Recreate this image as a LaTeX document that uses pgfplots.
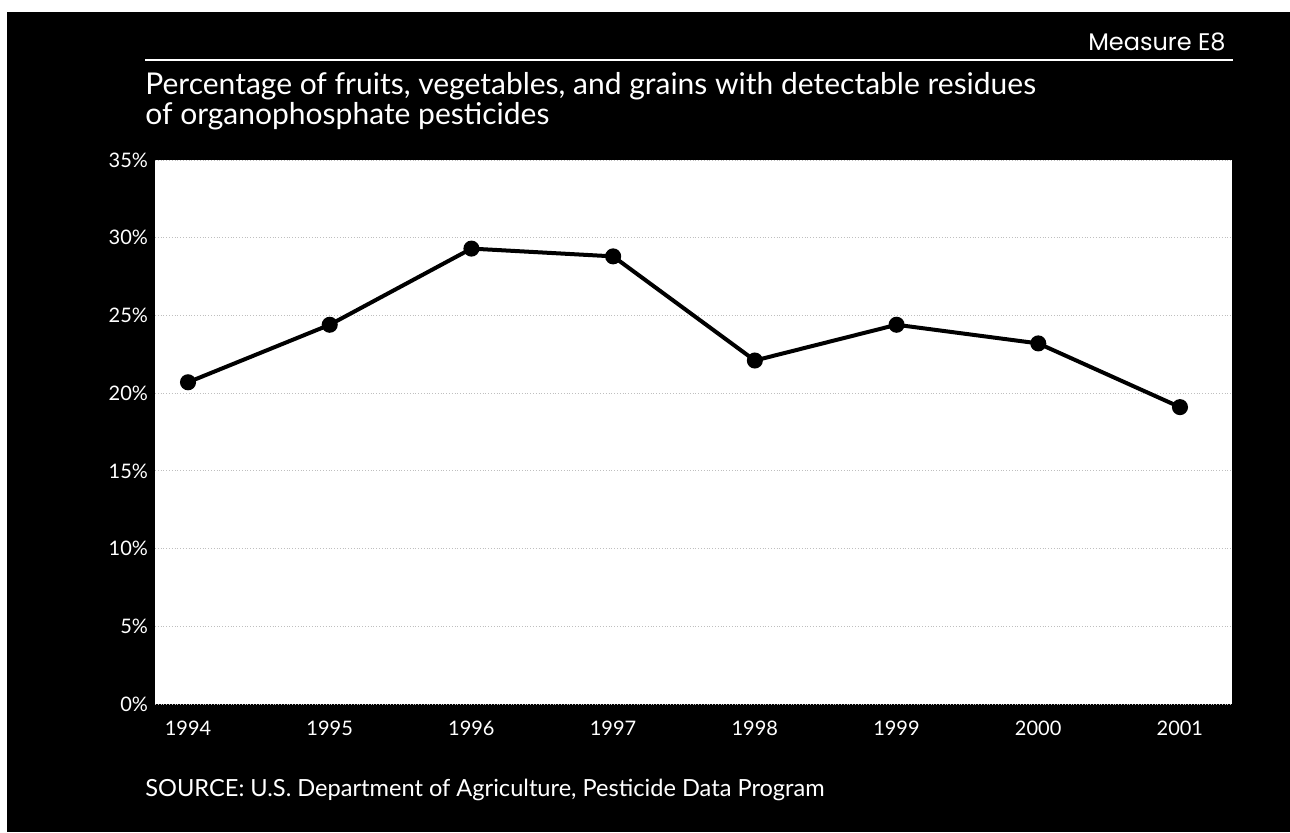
\documentclass[border=0pt]{standalone}
\usepackage{fontspec}
\setmainfont{Lato}
\newfontfamily\geofont{Poppins}
\usepackage{pgfplots}
\pgfplotsset{compat=1.18}
\begin{document}
\begin{tikzpicture}
% page frame: white margin, black panel
\fill[white] (0pt,0pt) rectangle (645pt,416pt);
\fill[black] (3.5pt,0pt) rectangle (645pt,410pt);
\draw[white, line width=1pt] (72.5pt,386pt) -- (616.5pt,386pt);
\node[anchor=east, text=white, inner sep=0, font=\geofont\fontsize{12}{14}\selectfont] at (613pt,395pt) {Measure E8};
\node[anchor=north west, align=left, text=white, inner sep=0, font=\fontsize{15}{12.5}\selectfont] at (72.5pt,380pt)
  {Percentage of fruits, vegetables, and grains with detectable residues\\of organophosphate pesticides};
\node[anchor=west, text=white, inner sep=0, font=\fontsize{11.8}{13}\selectfont] at (72.5pt,21pt)
  {SOURCE: U.S. Department of Agriculture, Pesticide Data Program};
\begin{axis}[
    at={(77.5pt,64pt)}, anchor=south west,
    scale only axis,
    width=538.5pt, height=272pt,
    xmin=1993.767, xmax=2001.367,
    ymin=0, ymax=35,
    axis background/.style={fill=white},
    axis line style={draw=none},
    major tick length=0pt,
    xtick={1994,...,2001},
    ytick={0,5,...,35},
    /pgf/number format/assume math mode=true,
    /pgf/number format/set thousands separator={},
    yticklabel={\pgfmathprintnumber{\tick}\%},
    x tick label style={text=white, font=\fontsize{10}{12}\selectfont, yshift=-5pt},
    y tick label style={text=white, font=\fontsize{10}{12}\selectfont},
    ymajorgrids,
    grid style={gray!50, densely dotted, line width=0.5pt},
    clip=false,
]
\addplot[black, line width=2pt, mark=*, mark size=3pt] coordinates {
    (1994,20.7) (1995,24.4) (1996,29.3) (1997,28.8)
    (1998,22.1) (1999,24.4) (2000,23.2) (2001,19.1)
};
\end{axis}
\end{tikzpicture}
\end{document}
